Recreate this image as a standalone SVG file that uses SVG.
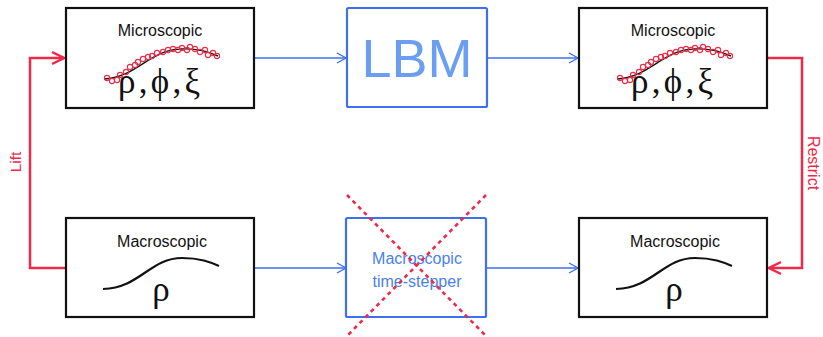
<svg xmlns="http://www.w3.org/2000/svg" width="823" height="337" viewBox="0 0 823 337">
<style>
.box{fill:#fff;stroke:#111;stroke-width:2.2}
.bbox{fill:#fff;stroke:#3d6ff0;stroke-width:2.2}
.lbl{font-family:"Liberation Sans",Arial,sans-serif;font-size:16px;fill:#111;text-anchor:middle}
.greek{font-family:"Liberation Serif","Times New Roman",serif;font-size:35px;fill:#111;text-anchor:middle}
.curve{fill:none;stroke:#111;stroke-width:2.2}
.thin{fill:none;stroke:#111;stroke-width:1.4}
.dots circle{fill:none;stroke:#ee2a45;stroke-width:1.1}
.blue{fill:none;stroke:#3d6ff0;stroke-width:1.5}
.red{fill:none;stroke:#f0284a;stroke-width:2.5}
.rlbl{font-family:"Liberation Sans",Arial,sans-serif;font-size:15.5px;fill:#f0284a;text-anchor:middle}
</style>
<defs>
<marker id="ab" markerWidth="12" markerHeight="12" refX="10" refY="6" orient="auto" markerUnits="userSpaceOnUse">
<path d="M1,1 L10,6 L1,11" fill="none" stroke="#3d6ff0" stroke-width="1.4"/>
</marker>
<marker id="ar" markerWidth="16" markerHeight="16" refX="14" refY="8" orient="auto" markerUnits="userSpaceOnUse">
<path d="M2,2 L14,8 L2,14" fill="none" stroke="#f0284a" stroke-width="2.5"/>
</marker>
<g id="dotset" class="dots">
<circle cx="107" cy="78" r="2.6"/><circle cx="112" cy="81" r="2.6"/><circle cx="117" cy="80" r="2.6"/>
<circle cx="120" cy="75" r="2.6"/><circle cx="126" cy="72" r="2.6"/><circle cx="130" cy="67" r="2.6"/>
<circle cx="135" cy="65" r="2.6"/><circle cx="138" cy="62" r="2.6"/><circle cx="143" cy="59" r="2.6"/>
<circle cx="148" cy="57" r="2.6"/><circle cx="152" cy="56" r="2.6"/><circle cx="157" cy="53" r="2.6"/>
<circle cx="163" cy="52" r="2.6"/><circle cx="168" cy="50" r="2.6"/><circle cx="173" cy="49" r="2.6"/>
<circle cx="178" cy="50" r="2.6"/><circle cx="182" cy="48" r="2.6"/><circle cx="187" cy="50" r="2.6"/>
<circle cx="190" cy="47" r="2.6"/><circle cx="195" cy="49" r="2.6"/><circle cx="200" cy="52" r="2.6"/>
<circle cx="205" cy="50" r="2.6"/><circle cx="208" cy="55" r="2.6"/><circle cx="213" cy="53" r="2.6"/>
<circle cx="217" cy="56" r="2.6"/>
</g>
</defs>
<rect width="823" height="337" fill="#fff"/>

<g id="connectors">
<line class="blue" x1="255" y1="58" x2="346" y2="58" marker-end="url(#ab)"/>
<line class="blue" x1="488" y1="58" x2="578" y2="58" marker-end="url(#ab)"/>
<line class="blue" x1="255" y1="268" x2="346" y2="268" marker-end="url(#ab)"/>
<line class="blue" x1="487" y1="268" x2="578" y2="268" marker-end="url(#ab)"/>
<path class="red" d="M66,268 H30 V58 H64" marker-end="url(#ar)"/>
<path class="red" d="M768,58 H802 V268 H769" marker-end="url(#ar)"/>
<text class="rlbl" transform="translate(21,162) rotate(-90)">Lift</text>
<text class="rlbl" transform="translate(808,163) rotate(90)" style="font-size:16px">Restrict</text>
</g>

<g id="micro-left">
<rect class="box" x="66" y="8" width="188" height="100"/>
<text class="lbl" x="160" y="36">Microscopic</text>
<path class="thin" d="M104,79 C135,78 150,50 180,49 C198,48 208,52 218,56"/>
<use href="#dotset"/>
<text class="greek" x="159" y="93" textLength="82" lengthAdjust="spacing">ρ,ϕ,ξ</text>
</g>

<g id="lbm">
<rect class="bbox" x="347" y="8" width="140" height="99" rx="1.5"/>
<text x="417" y="77" font-family="'Liberation Sans',Arial,sans-serif" font-size="54" fill="#6a9ef0" text-anchor="middle">LBM</text>
</g>

<g id="micro-right">
<rect class="box" x="579" y="8" width="188" height="100"/>
<text class="lbl" x="673" y="36">Microscopic</text>
<path class="thin" d="M617,79 C648,78 663,50 693,49 C711,48 721,52 731,56"/>
<use href="#dotset" transform="translate(513,0)"/>
<text class="greek" x="672" y="93" textLength="82" lengthAdjust="spacing">ρ,ϕ,ξ</text>
</g>

<g id="macro-left">
<rect class="box" x="66" y="218" width="188" height="99"/>
<text class="lbl" x="162" y="247">Macroscopic</text>
<path class="curve" d="M103,289 C140,288 150,258 182,258 C200,258 210,262 219,266"/>
<text class="greek" x="161" y="301">ρ</text>
</g>

<g id="time-stepper">
<rect class="bbox" x="346" y="218" width="140" height="99" rx="1.5"/>
<text x="417" y="264" font-family="'Liberation Sans',Arial,sans-serif" font-size="16" fill="#4a7ff0" text-anchor="middle">Macroscopic</text>
<text x="417" y="287" font-family="'Liberation Sans',Arial,sans-serif" font-size="16" fill="#4a7ff0" text-anchor="middle">time-stepper</text>
<line x1="347" y1="195" x2="486" y2="336" stroke="#f0284a" stroke-width="2.6" stroke-dasharray="4,4"/>
<line x1="486" y1="195" x2="347" y2="336" stroke="#f0284a" stroke-width="2.6" stroke-dasharray="4,4"/>
</g>

<g id="macro-right">
<rect class="box" x="579" y="218" width="188" height="99"/>
<text class="lbl" x="675" y="247">Macroscopic</text>
<path class="curve" d="M616,289 C653,288 663,258 695,258 C713,258 723,262 732,266"/>
<text class="greek" x="674" y="301">ρ</text>
</g>
</svg>
